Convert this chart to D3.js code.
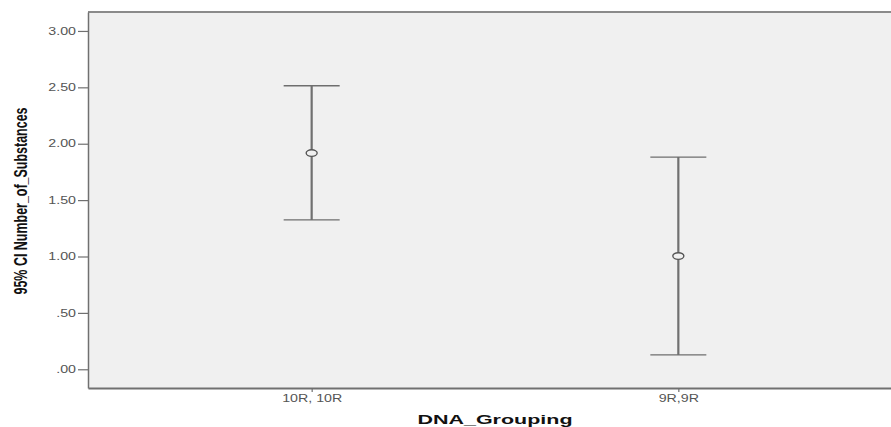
<!DOCTYPE html>
<html><head><meta charset="utf-8">
<script src="https://cdn.jsdelivr.net/npm/d3@7"></script>
<style>body{margin:0;background:#fff}svg{display:block}</style>
</head><body>
<svg id="c" width="891" height="427"></svg>
<script>
const categories = ["10R, 10R", "9R,9R"];
const means = [1.917, 1.004];
const lower = [1.324, 0.127];
const upper = [2.514, 1.882];
const yTicks = [0, 0.5, 1, 1.5, 2, 2.5, 3];
const yTickLabels = [".00", ".50", "1.00", "1.50", "2.00", "2.50", "3.00"];
const xTitle = "DNA_Grouping";
const yTitle = "95% CI Number_of_Substances";

const svg = d3.select("#c");
const L = 88, R = 902, T = 12, B = 388;
const stretch = 1.42;

const y = d3.scaleLinear().domain([-0.166, 3.168]).range([B, T]);
const x = d3.scalePoint().domain(categories).range([L, R]).padding(0.61);

// plot background
svg.append("rect").attr("x", L).attr("y", T).attr("width", R - L).attr("height", B - T)
  .attr("fill", "#f0f0f0");

// top border
svg.append("line").attr("x1", L).attr("x2", R).attr("y1", T).attr("y2", T)
  .attr("stroke", "#8a8a8a").attr("stroke-width", 2);

function stretchText(sel) {
  sel.each(function () {
    const t = d3.select(this);
    const w = this.getComputedTextLength();
    t.attr("textLength", w * stretch).attr("lengthAdjust", "spacingAndGlyphs");
  });
}

// y axis
const yAxis = d3.axisLeft(y).tickValues(yTicks)
  .tickFormat((d, i) => yTickLabels[i]).tickSize(10).tickSizeOuter(0).tickPadding(2);
const gy = svg.append("g").attr("transform", `translate(${L},0)`).call(yAxis);
gy.select(".domain").attr("stroke", "#707070").attr("stroke-width", 1.5);
gy.selectAll(".tick line").attr("stroke", "#707070").attr("stroke-width", 1.2);
gy.selectAll(".tick text").attr("font-family", "Liberation Sans, Arial, sans-serif")
  .attr("font-size", 10).attr("fill", "#555").call(stretchText);

// x axis
const xAxis = d3.axisBottom(x).tickSize(4).tickSizeOuter(0).tickPadding(3);
const gx = svg.append("g").attr("transform", `translate(0,${B})`).call(xAxis);
gx.select(".domain").attr("stroke", "#707070").attr("stroke-width", 2);
gx.selectAll(".tick line").attr("stroke", "#707070").attr("stroke-width", 1.2);
gx.selectAll(".tick text").attr("font-family", "Liberation Sans, Arial, sans-serif")
  .attr("font-size", 10).attr("fill", "#555").call(stretchText);

// error bars
const g = svg.append("g");
categories.forEach((c, i) => {
  const cx = x(c);
  g.append("line").attr("x1", cx).attr("x2", cx).attr("y1", y(upper[i])).attr("y2", y(lower[i]))
    .attr("stroke", "#707070").attr("stroke-width", 2.2);
  [upper[i], lower[i]].forEach(v => {
    g.append("line").attr("x1", cx - 28).attr("x2", cx + 28).attr("y1", y(v)).attr("y2", y(v))
      .attr("stroke", "#6e6e6e").attr("stroke-width", 1.3);
  });
  g.append("ellipse").attr("cx", cx).attr("cy", y(means[i])).attr("rx", 5.5).attr("ry", 3.3)
    .attr("fill", "#f0f0f0").attr("stroke", "#555").attr("stroke-width", 1.4);
});

// titles
svg.append("text").attr("x", 495).attr("y", 424).attr("text-anchor", "middle")
  .attr("font-family", "Liberation Sans, Arial, sans-serif").attr("font-weight", "bold")
  .attr("font-size", 13).attr("fill", "#111")
  .attr("textLength", 155).attr("lengthAdjust", "spacingAndGlyphs").text(xTitle);

svg.append("text").attr("transform", `translate(27,201) scale(${stretch},1) rotate(-90)`).attr("text-anchor", "middle")
  .attr("font-family", "Liberation Sans Narrow, Liberation Sans, Arial, sans-serif").attr("font-weight", "bold")
  .attr("font-size", 13).attr("fill", "#111")
  .attr("textLength", 187).attr("lengthAdjust", "spacingAndGlyphs").text(yTitle);
</script>
</body></html>
